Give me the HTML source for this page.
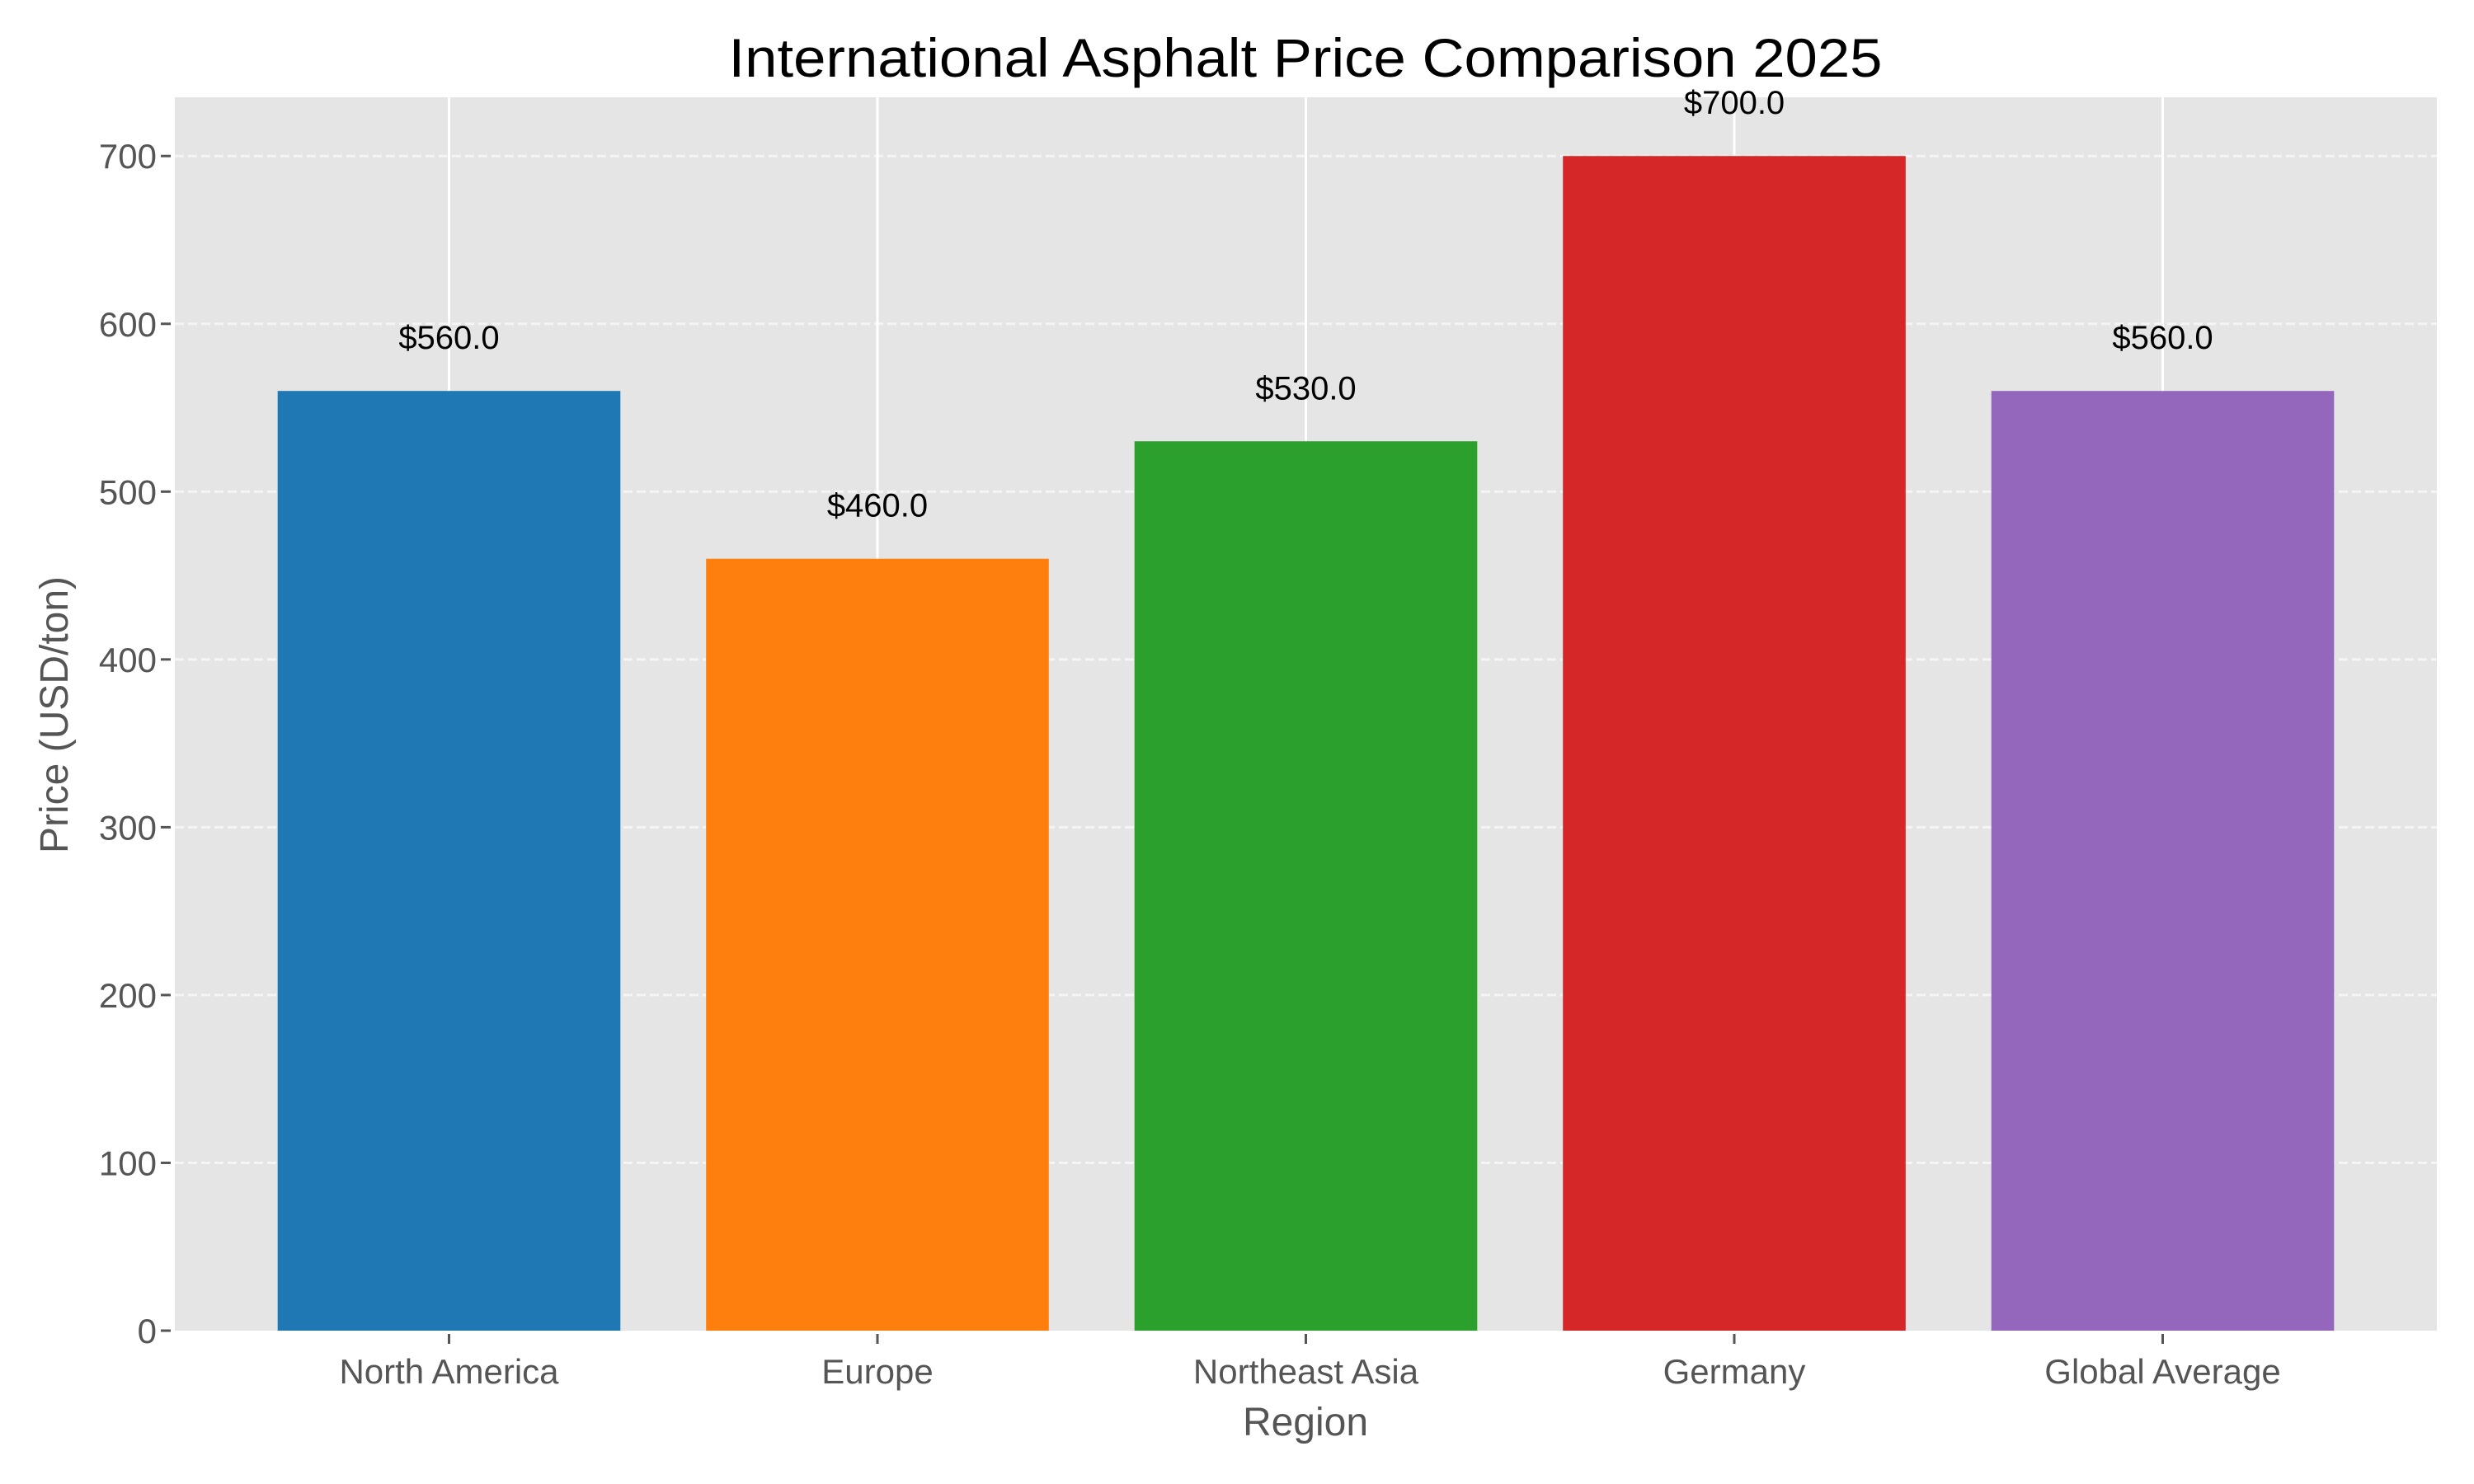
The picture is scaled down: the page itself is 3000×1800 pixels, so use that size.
<!DOCTYPE html>
<html><head><meta charset="utf-8"><style>
html,body{margin:0;padding:0;background:#fff;}
svg{display:block;font-family:"Liberation Sans",sans-serif;}
</style></head><body>
<svg id="chart" width="3000" height="1800" viewBox="0 0 3000 1800" xmlns="http://www.w3.org/2000/svg">
<rect x="212" y="118" width="2743" height="1496" fill="#e5e5e5"/>
<g id="grid"></g>
<g id="bars"></g>
<g id="labels"></g>
<g id="yticks"></g>
<g id="xticks"></g>
<text x="1583" y="93" font-size="66" text-anchor="middle" textLength="1399" lengthAdjust="spacingAndGlyphs" fill="#000">International Asphalt Price Comparison 2025</text>
<text x="1583" y="1741" font-size="48" text-anchor="middle" fill="#555">Region</text>
<text x="0" y="0" font-size="48" text-anchor="middle" fill="#555" transform="translate(82,867) rotate(-90)">Price (USD/ton)</text>
</svg>
<script>
const categories = ["North America","Europe","Northeast Asia","Germany","Global Average"];
const prices = [560,460,530,700,560];
const colors = ["#1f77b4","#ff7f0e","#2ca02c","#d62728","#9467bd"];
const yTicks = [0,100,200,300,400,500,600,700];

const NS="http://www.w3.org/2000/svg";
const L=212,R=2955,T=118,B=1614;
const yMax=735, xMin=-0.64, xMax=4.64;
function y(v){return B-(v/yMax)*(B-T);}
function x(i){return L+(i-xMin)/(xMax-xMin)*(R-L);}
const unit=(R-L)/(xMax-xMin);
function mk(tag,attrs,parent){const e=document.createElementNS(NS,tag);for(const k in attrs)e.setAttribute(k,attrs[k]);parent.appendChild(e);return e;}
const grid=document.getElementById('grid'),bars=document.getElementById('bars'),labels=document.getElementById('labels'),yt=document.getElementById('yticks'),xt=document.getElementById('xticks');

yTicks.forEach(v=>{
  if(v>0){
    const g=mk('line',{x1:L,x2:R,y1:y(v),y2:y(v),stroke:'#f5f5f5','stroke-width':3,'stroke-dasharray':'11 5'},grid);
    
    
  }
  const t=mk('line',{x1:L-17,x2:L-5,y1:y(v),y2:y(v),stroke:'#555','stroke-width':3},yt);
  
  
  const lb=mk('text',{x:L-22,y:y(v)+15,'font-size':42,'text-anchor':'end',fill:'#555'},yt);
  lb.textContent=v;
  
  
});
categories.forEach((c,i)=>{
  const g=mk('line',{x1:x(i),x2:x(i),y1:T,y2:B,stroke:'#fff','stroke-width':3},grid);
  
  
  const w=unit*0.8;
  const b=mk('rect',{x:x(i)-w/2,y:y(prices[i]),width:w,height:B-y(prices[i]),fill:colors[i]},bars);
  
  
  const vl=mk('text',{x:x(i),y:y(prices[i])-51,'font-size':40,'text-anchor':'middle',fill:'#000'},labels);
  vl.textContent='$'+prices[i].toFixed(1);
  
  
  const t=mk('line',{x1:x(i),x2:x(i),y1:B+4,y2:B+16,stroke:'#555','stroke-width':3},xt);
  
  
  const lb=mk('text',{x:x(i),y:1678,'font-size':42,'text-anchor':'middle',fill:'#555'},xt);
  lb.textContent=c;
  
  
});
</script>
</body></html>
